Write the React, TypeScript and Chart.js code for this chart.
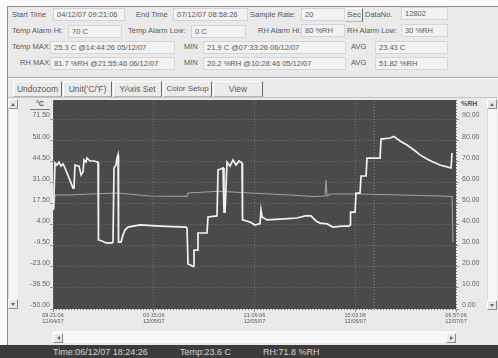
import React, { useEffect, useRef } from "react";
import { Chart, registerables } from "chart.js";
Chart.register(...registerables);

// ---- data (x = hours since 04/12/07 09:21:06) ----
const rhTimes = [0.09, 0.36, 0.71, 1.07, 1.42, 1.78, 2.13, 2.84, 3.55, 3.73, 3.91, 4.62, 4.98, 5.33, 5.51, 5.86, 6.04, 6.57, 7.29, 8.0, 8.08, 8.71, 9.42, 10.48, 10.66, 10.84, 11.19, 11.37, 11.55, 11.64, 12.08, 12.44, 12.79, 13.33, 15.46, 19.01, 23.63, 23.81, 23.99, 24.88, 25.05, 25.59, 25.76, 27.36, 27.54, 29.14, 29.32, 30.21, 30.38, 30.56, 30.92, 31.45, 31.98, 32.52, 33.05, 33.58, 33.67, 35.0, 35.89, 36.6, 36.78, 36.96, 37.14, 38.02, 40.33, 43.35, 44.78, 45.84, 46.73, 47.44, 48.69, 49.75, 51.35, 52.59, 52.77, 52.86, 53.66, 53.84, 54.55, 54.73, 55.62, 55.79, 58.1, 58.28, 59.88, 60.58, 61.66, 62.9, 64.14, 65.21, 66.45, 67.52, 68.76, 70.01, 70.72, 70.9];
const rhValues = [46.9, 69.2, 68.2, 69.6, 67.7, 68.7, 66.8, 62.1, 57.3, 57.3, 68.2, 67.7, 63.5, 64.9, 70.6, 69.6, 71.5, 70.1, 70.1, 69.6, 32.7, 32.2, 31.3, 31.3, 31.7, 66.8, 68.2, 71.5, 73.0, 31.7, 31.7, 35.1, 37.4, 38.8, 39.8, 39.3, 38.8, 38.4, 21.3, 20.2, 27.9, 27.9, 36.0, 36.0, 43.6, 44.1, 65.8, 66.8, 45.9, 45.9, 69.6, 67.7, 70.6, 68.2, 70.1, 69.2, 42.2, 41.2, 39.8, 40.3, 40.3, 46.9, 43.6, 42.2, 42.6, 43.1, 44.1, 44.1, 41.7, 40.7, 40.3, 38.8, 39.3, 39.3, 39.8, 45.9, 45.9, 54.9, 54.9, 63.0, 63.0, 71.5, 71.5, 80.5, 81.0, 81.7, 79.6, 77.7, 75.3, 73.0, 71.1, 69.6, 68.2, 67.3, 66.8, 73.9];

const tempTimes = [0.0, 0.18, 0.36, 3.02, 6.57, 11.37, 17.24, 23.81, 23.99, 29.39, 35.0, 42.1, 46.2, 48.33, 48.51, 48.69, 49.22, 54.55, 61.66, 68.76, 70.9, 71.07];
const tempValues = [22.9, 14.6, 22.9, 22.9, 23.5, 24.2, 22.3, 22.0, 24.2, 25.3, 24.2, 22.9, 21.9, 22.3, 32.5, 22.3, 23.5, 23.5, 22.9, 22.3, 22.0, -7.2];

const leftTicks = [-50, -36.5, -23, -9.5, 4, 17.5, 31, 44.5, 58, 71.5];
const rightTicks = [0, 10, 20, 30, 40, 50, 60, 70, 80, 90];
const xTicks = [0, 17.9, 35.8, 53.7, 71.6];
const xTickLabels = [
  ["09:21:06", "12/04/07"],
  ["03:15:06", "12/05/07"],
  ["21:09:06", "12/05/07"],
  ["15:03:06", "12/06/07"],
  ["09:57:06", "12/07/07"],
];
const cursorTime = 57.06;
const leftMin = -50;
const leftMax = 83.65;
const rightMin = 0;
const rightMax = 99;
const xMin = 0;
const xMax = 71.6;

const FONT = "'Liberation Sans', Arial, sans-serif";

function Lab({ t, x, cy, size = 7.5, color = "#5a5a5a", bold = false }: any) {
  return (
    <div style={{ position: "absolute", left: x, top: cy - 6, height: 12, lineHeight: "12px", fontSize: size, color, whiteSpace: "nowrap", fontWeight: bold ? "bold" : "normal" }}>{t}</div>
  );
}
function Box({ t, x, y, w, h = 13 }: any) {
  return (
    <div style={{ position: "absolute", left: x, top: y, width: w, height: h, boxSizing: "border-box", border: "1px solid #d4d4d4", background: "#f2f2f2", fontSize: 7.5, lineHeight: h - 2 + "px", paddingLeft: 3, color: "#5a5a5a", whiteSpace: "nowrap", overflow: "hidden" }}>{t}</div>
  );
}
function Btn({ t, x, y, w, h, fs = 8.5 }: any) {
  return (
    <div style={{ position: "absolute", left: x, top: y, width: w, height: h, boxSizing: "border-box", borderLeft: "1px solid #fff", borderTop: "1px solid #fff", borderRight: "1px solid #6a6a6a", borderBottom: "1px solid #b5b5b5", background: "#ebebeb", fontSize: fs, lineHeight: h - 2 + "px", textAlign: "center", color: "#5a5a5a", whiteSpace: "nowrap" }}>{t}</div>
  );
}
function Arrow({ x, y, dir }: any) {
  const tri: any = { position: "absolute", width: 0, height: 0 };
  if (dir === "up") Object.assign(tri, { left: 2, top: 3, borderLeft: "2.5px solid transparent", borderRight: "2.5px solid transparent", borderBottom: "3px solid #666" });
  if (dir === "down") Object.assign(tri, { left: 2, top: 3, borderLeft: "2.5px solid transparent", borderRight: "2.5px solid transparent", borderTop: "3px solid #666" });
  if (dir === "left") Object.assign(tri, { left: 3, top: 2, borderTop: "2.5px solid transparent", borderBottom: "2.5px solid transparent", borderRight: "3px solid #666" });
  if (dir === "right") Object.assign(tri, { left: 3, top: 2, borderTop: "2.5px solid transparent", borderBottom: "2.5px solid transparent", borderLeft: "3px solid #666" });
  return (
    <div style={{ position: "absolute", left: x, top: y, width: 10, height: 10, boxSizing: "border-box", borderLeft: "1px solid #fff", borderTop: "1px solid #fff", borderRight: "1px solid #8a8a8a", borderBottom: "1px solid #8a8a8a", background: "#e8e8e8" }}>
      <div style={tri} />
    </div>
  );
}

export default function App() {
  const ref = useRef<HTMLCanvasElement>(null);
  useEffect(() => {
    if (!ref.current) return;
    Chart.defaults.font.family = FONT;
    const bgPlugin = {
      id: "plotbg",
      beforeDraw(chart: any) {
        const { ctx, chartArea } = chart;
        ctx.save();
        ctx.fillStyle = "#4a4a4a";
        ctx.fillRect(chartArea.left, chartArea.top, chartArea.right - chartArea.left, chartArea.bottom - chartArea.top);
        ctx.restore();
      },
    };
    const chart = new Chart(ref.current, {
      type: "line",
      data: {
        datasets: [
          {
            label: "RH",
            data: rhTimes.map((t, i) => ({ x: t, y: rhValues[i] })),
            yAxisID: "yR",
            borderColor: "#f2f2f2",
            borderWidth: 1.7,
            pointRadius: 0,
            tension: 0,
          },
          {
            label: "Temp",
            data: tempTimes.map((t, i) => ({ x: t, y: tempValues[i] })),
            yAxisID: "yL",
            borderColor: "#a0a0a0",
            borderWidth: 1.1,
            pointRadius: 0,
            tension: 0,
          },
          {
            label: "cursor",
            data: [{ x: cursorTime, y: leftMin }, { x: cursorTime, y: leftMax }],
            yAxisID: "yL",
            borderColor: "#8a8a8a",
            borderWidth: 1,
            borderDash: [1, 2],
            pointRadius: 0,
          },
        ],
      },
      options: {
        animation: false,
        responsive: false,
        devicePixelRatio: 1,
        layout: { padding: { top: 2, left: 0, right: 0, bottom: 0 } },
        plugins: { legend: { display: false }, tooltip: { enabled: false } },
        scales: {
          x: {
            type: "linear",
            position: "bottom",
            min: xMin,
            max: xMax,
            afterBuildTicks: (s: any) => { s.ticks = xTicks.map((v) => ({ value: v })); },
            afterFit: (s: any) => { s.height = 21; s.paddingLeft = 0; s.paddingRight = 0; },
            ticks: {
              autoSkip: false, maxRotation: 0, minRotation: 0, padding: 1, color: "#5a5a5a",
              font: { size: 5.5, lineHeight: 1 },
              callback: (_v: any, i: number) => xTickLabels[i],
            },
            grid: { color: "#707070", tickLength: 3, tickColor: "#999" },
            border: { display: false, dash: [1, 2] },
          },
          yL: {
            type: "linear",
            position: "left",
            min: leftMin,
            max: leftMax,
            afterBuildTicks: (s: any) => { s.ticks = leftTicks.map((v) => ({ value: v })); },
            afterFit: (s: any) => { s.width = 33; s.paddingTop = 0; s.paddingBottom = 0; },
            ticks: { autoSkip: false, align: "end", padding: 0, color: "#666", font: { size: 7 }, callback: (v: any) => Number(v).toFixed(2) },
            grid: { color: "#707070", tickLength: 3, tickColor: "#999" },
            border: { display: false, dash: [1, 2] },
          },
          yR: {
            type: "linear",
            position: "right",
            min: rightMin,
            max: rightMax,
            afterBuildTicks: (s: any) => { s.ticks = rightTicks.map((v) => ({ value: v })); },
            afterFit: (s: any) => { s.width = 30; s.paddingTop = 0; s.paddingBottom = 0; },
            ticks: { autoSkip: false, align: "end", padding: 3, color: "#666", font: { size: 7 }, callback: (v: any) => Number(v).toFixed(2) },
            grid: { drawOnChartArea: false, tickLength: 3, tickColor: "#999" },
            border: { display: false },
          },
        },
      },
      plugins: [bgPlugin],
    } as any);
    return () => chart.destroy();
  }, []);

  return (
    <div style={{ position: "fixed", left: 0, top: 0, width: 498, height: 358, background: "#fafafa", fontFamily: FONT, overflow: "hidden" }}>
      <div style={{ position: "absolute", left: 7, top: 6, width: 491, height: 339, background: "#eaeaea", borderLeft: "1px solid #8e8e8e", borderTop: "1px solid #8e8e8e", boxSizing: "border-box" }} />
      {/* row 1 */}
      <Lab t="Start Time" x={12} cy={15} />
      <Box t="04/12/07 09:21:06" x={53} y={8} w={72} />
      <Lab t="End Time" x={136} cy={15} />
      <Box t="07/12/07 08:58:26" x={173} y={8} w={75} />
      <Lab t="Sample Rate:" x={250} cy={15} />
      <Box t="20" x={301} y={8} w={44} />
      <Btn t="Sec" x={345} y={8} w={18} h={14} fs={8} />
      <Lab t="DataNo." x={365} cy={15} />
      <Box t="12802" x={401} y={7} w={47} />
      {/* row 2 */}
      <Lab t="Temp Alarm Hi:" x={12} cy={31} />
      <Box t="70 C" x={68} y={25} w={54} />
      <Lab t="Temp Alarm Low:" x={128} cy={31} />
      <Box t="0 C" x={191} y={25} w={55} />
      <Lab t="RH Alarm Hi:" x={258} cy={31} />
      <Box t="80 %RH" x={301} y={24} w={44} />
      <Lab t="RH Alarm Low:" x={347} cy={31} />
      <Box t="30 %RH" x={401} y={24} w={47} />
      {/* row 3 */}
      <Lab t="Temp MAX:" x={12} cy={47} />
      <Box t="25.3 C @14:44:26 05/12/07" x={50} y={41} w={125} />
      <Lab t="MIN" x={184} cy={47} />
      <Box t="21.9 C @07:33:26 06/12/07" x={203} y={41} w={143} />
      <Lab t="AVG" x={351} cy={47} />
      <Box t="23.43 C" x={375} y={41} w={73} />
      {/* row 4 */}
      <Lab t="RH MAX:" x={20} cy={63} />
      <Box t="81.7 %RH @21:55:46 06/12/07" x={50} y={57} w={125} />
      <Lab t="MIN" x={184} cy={63} />
      <Box t="20.2 %RH @10:28:46 05/12/07" x={203} y={57} w={143} />
      <Lab t="AVG" x={351} cy={63} />
      <Box t="51.82 %RH" x={375} y={57} w={73} />
      {/* separators */}
      <div style={{ position: "absolute", left: 8, top: 77, width: 490, height: 1, background: "#a9a9a9" }} />
      <div style={{ position: "absolute", left: 8, top: 78, width: 490, height: 1, background: "#fdfdfd" }} />
      {/* toolbar */}
      <Btn t="Undozoom" x={13} y={81} w={49} h={16} />
      <Btn t="Unit('C/'F)" x={63} y={81} w={49} h={16} />
      <Btn t="YAxis Set" x={113} y={81} w={49} h={16} />
      <Btn t="Color Setup" x={163} y={81} w={49} h={16} fs={8} />
      <Btn t="View" x={213} y={81} w={50} h={16} />
      <div style={{ position: "absolute", left: 8, top: 97, width: 490, height: 1, background: "#c4c4c4" }} />
      {/* axis unit labels */}
      <div style={{ position: "absolute", left: 30, top: 100, width: 20, height: 9, fontSize: 7, fontWeight: "bold", color: "#555", textAlign: "center", lineHeight: "8px", borderBottom: "1px solid #777" }}>°C</div>
      <div style={{ position: "absolute", left: 461, top: 100, width: 22, height: 9, fontSize: 7, fontWeight: "bold", color: "#555", textAlign: "left", lineHeight: "8px" }}>%RH</div>
      {/* chart */}
      <canvas ref={ref} width={466} height={232} style={{ position: "absolute", left: 20, top: 98, width: 466, height: 232 }} />
      {/* left scrollbar */}
      <div style={{ position: "absolute", left: 8, top: 99, width: 10, height: 210, background: "#f6f6f6", borderLeft: "1px solid #d8d8d8", boxSizing: "border-box" }} />
      <Arrow x={8} y={99} dir="up" />
      <Arrow x={8} y={299} dir="down" />
      {/* right scrollbar */}
      <div style={{ position: "absolute", left: 487, top: 99, width: 10, height: 211, background: "#f6f6f6", borderLeft: "1px solid #d8d8d8", boxSizing: "border-box" }} />
      <Arrow x={487} y={99} dir="up" />
      <Arrow x={487} y={300} dir="down" />
      {/* horizontal scrollbar */}
      <div style={{ position: "absolute", left: 53, top: 331, width: 403, height: 12, background: "#f8f8f8" }} />
      <Arrow x={53} y={333} dir="left" />
      <Arrow x={446} y={333} dir="right" />
      {/* status bar */}
      <div style={{ position: "absolute", left: 0, top: 345, width: 498, height: 13, background: "#3c3c3c" }} />
      <Lab t="Time:06/12/07 18:24:26" x={53} cy={352} size={9} color="#d6d6d6" />
      <Lab t="Temp:23.6 C" x={180} cy={352} size={9} color="#d6d6d6" />
      <Lab t="RH:71.8 %RH" x={263} cy={352} size={9} color="#d6d6d6" />
    </div>
  );
}
